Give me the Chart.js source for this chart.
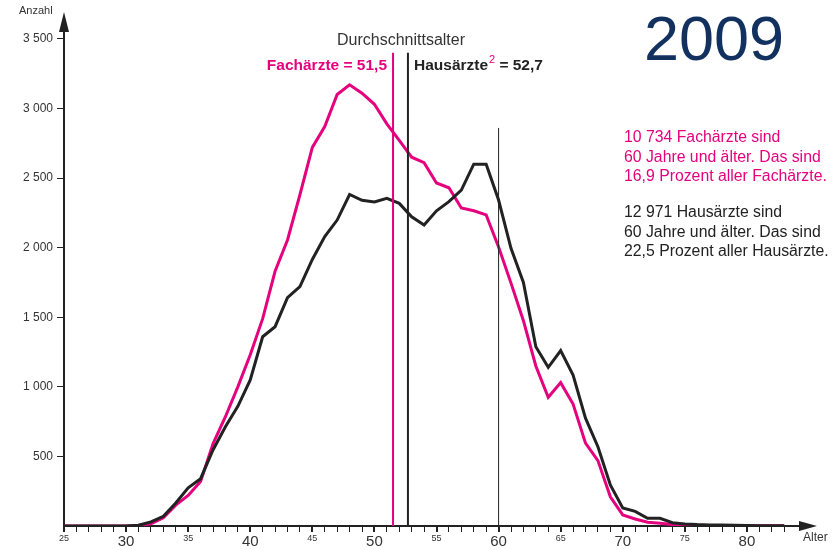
<!DOCTYPE html>
<html>
<head>
<meta charset="utf-8">
<script src="https://cdn.jsdelivr.net/npm/chart.js@4.4.1/dist/chart.umd.min.js"></script>
<style>
  html, body { margin: 0; padding: 0; background: #fff; }
  #wrap { width: 840px; height: 550px; position: relative; }
</style>
</head>
<body>
<div id="wrap"><canvas id="chart"></canvas></div>
<script>
// Alter 25 .. 83
const ages = [];
for (let a = 25; a <= 83; a++) ages.push(a);

const fachaerzte = [0, 0, 0, 0, 0, 0,
  5, 15, 60, 150, 220, 320, 590, 785, 1000, 1230,
  1490, 1830, 2055, 2380, 2720, 2870, 3100, 3170, 3110, 3030,
  2890, 2770, 2650, 2610, 2465, 2430, 2285, 2265, 2235, 2005,
  1745, 1475, 1150, 925, 1030, 876, 595, 470, 210, 80,
  50, 27, 20, 10, 5, 4, 3, 3, 2, 2,
  1, 1, 1];

const hausaerzte = [0, 0, 0, 0, 0, 0,
  5, 30, 70, 165, 275, 340, 546, 713, 860, 1050,
  1360, 1432, 1640, 1720, 1915, 2080, 2198, 2382, 2340, 2328,
  2354, 2318, 2222, 2162, 2265, 2330, 2414, 2600, 2600, 2342,
  1995, 1750, 1288, 1140, 1260, 1085, 775, 570, 295, 130,
  105, 55, 55, 24, 14, 10, 8, 8, 5, 3,
  2, 1, 1];

// Durchschnittsalter und 60-Jahre-Marke
const avgFach = 51.5;
const avgHaus = 52.7;
const avgTop = 3400;
const mark60 = 60;
const mark60Top = 2860;

const yTicks = [500, 1000, 1500, 2000, 2500, 3000, 3500];
const xLabels = [25, 30, 35, 40, 45, 50, 55, 60, 65, 70, 75, 80];

const PINK = "#e5007d";
const DARK = "#222222";
const FONT = "'Liberation Sans', Arial, sans-serif";

function toPoints(xs, ys) {
  let pts = [];
  for (let i = 0; i < xs.length; i++) pts.push({ x: xs[i], y: ys[i] });
  return pts;
}

function fmt(v) {
  return v >= 1000 ? Math.floor(v / 1000) + " " + String(v % 1000).padStart(3, "0") : String(v);
}

const decorations = {
  id: "decorations",
  afterDraw(chart) {
    const ctx = chart.ctx;
    const area = chart.chartArea;
    const xs = chart.scales.x;
    const ys = chart.scales.y;
    const x0 = xs.getPixelForValue(25);
    const y0 = ys.getPixelForValue(0);

    ctx.save();
    ctx.fillStyle = DARK;
    // y arrow
    ctx.beginPath();
    ctx.moveTo(x0, area.top - 6);
    ctx.lineTo(x0 - 5, area.top + 14);
    ctx.lineTo(x0 + 5, area.top + 14);
    ctx.closePath();
    ctx.fill();
    // x arrow
    ctx.beginPath();
    ctx.moveTo(area.right + 8, y0);
    ctx.lineTo(area.right - 10, y0 - 5);
    ctx.lineTo(area.right - 10, y0 + 5);
    ctx.closePath();
    ctx.fill();

    ctx.fillStyle = "#333";
    ctx.font = "11px " + FONT;
    ctx.textAlign = "left";
    ctx.textBaseline = "middle";
    ctx.fillText("Anzahl", 19, 11);
    ctx.font = "12px " + FONT;
    ctx.fillText("Alter", 803, 538);

    // Jahr
    ctx.fillStyle = "#12315f";
    ctx.font = "63px " + FONT;
    ctx.textBaseline = "alphabetic";
    ctx.fillText("2009", 644, 60);

    // Durchschnittsalter
    ctx.fillStyle = "#333";
    ctx.font = "16px " + FONT;
    ctx.textAlign = "center";
    ctx.textBaseline = "middle";
    ctx.fillText("Durchschnittsalter", 401, 41);

    ctx.font = "bold 15.5px " + FONT;
    ctx.textAlign = "right";
    ctx.fillStyle = PINK;
    ctx.fillText("Fachärzte = 51,5", 387, 66);

    ctx.textAlign = "left";
    ctx.fillStyle = DARK;
    let hx = 414;
    ctx.fillText("Hausärzte", hx, 66);
    hx += ctx.measureText("Hausärzte").width;
    ctx.fillStyle = PINK;
    ctx.font = "11px " + FONT;
    ctx.fillText("2", hx + 1, 60);
    hx += 7;
    ctx.fillStyle = DARK;
    ctx.font = "bold 15.5px " + FONT;
    ctx.fillText(" = 52,7", hx, 66);

    // Hinweise rechts
    ctx.font = "15.8px " + FONT;
    const pinkNote = ["10 734 Fachärzte sind", "60 Jahre und älter. Das sind", "16,9 Prozent aller Fachärzte."];
    const darkNote = ["12 971 Hausärzte sind", "60 Jahre und älter. Das sind", "22,5 Prozent aller Hausärzte."];
    ctx.fillStyle = PINK;
    pinkNote.forEach((t, i) => ctx.fillText(t, 624, 138 + i * 19.5));
    ctx.fillStyle = DARK;
    darkNote.forEach((t, i) => ctx.fillText(t, 624, 213 + i * 19.5));
    ctx.restore();
  }
};

new Chart(document.getElementById("chart").getContext("2d"), {
  type: "line",
  data: {
    datasets: [
      {
        label: "avgFach",
        data: [{ x: avgFach, y: 0 }, { x: avgFach, y: avgTop }],
        borderColor: PINK,
        borderWidth: 2,
        pointRadius: 0,
      },
      {
        label: "avgHaus",
        data: [{ x: avgHaus, y: 0 }, { x: avgHaus, y: avgTop }],
        borderColor: DARK,
        borderWidth: 2,
        pointRadius: 0,
      },
      {
        label: "mark60",
        data: [{ x: mark60, y: 0 }, { x: mark60, y: mark60Top }],
        borderColor: DARK,
        borderWidth: 1,
        pointRadius: 0,
      },
      {
        label: "Hausärzte",
        data: toPoints(ages, hausaerzte),
        borderColor: DARK,
        borderWidth: 3,
        pointRadius: 0,
        tension: 0,
      },
      {
        label: "Fachärzte",
        data: toPoints(ages, fachaerzte),
        borderColor: PINK,
        borderWidth: 3,
        pointRadius: 0,
        tension: 0,
      },
    ],
  },
  options: {
    responsive: true,
    maintainAspectRatio: false,
    animation: false,
    layout: { padding: { top: 18, right: 31, left: 0, bottom: 0 } },
    plugins: {
      legend: { display: false },
      tooltip: { enabled: false },
    },
    scales: {
      x: {
        type: "linear",
        min: 25,
        max: 85,
        afterFit: (s) => { s.height = 24; },
        border: { display: true, color: DARK, width: 2 },
        grid: {
          drawOnChartArea: false,
          drawTicks: true,
          tickLength: 6,
          color: (c) => (c.tick && c.tick.value <= 83 ? DARK : "transparent"),
          lineWidth: (c) => (c.tick && c.tick.value % 5 === 0 ? 2 : 1),
        },
        ticks: {
          stepSize: 1,
          autoSkip: false,
          maxRotation: 0,
          padding: 1,
          color: "#333",
          font: (c) => ({
            family: FONT,
            size: c.tick && c.tick.value % 10 === 0 ? 15 : 9,
          }),
          callback: (v) => (xLabels.includes(v) ? String(v) : ""),
        },
      },
      y: {
        type: "linear",
        min: 0,
        max: 3650,
        afterFit: (s) => { s.width = 64; },
        afterBuildTicks: (s) => {
          s.ticks = [0].concat(yTicks, [3650]).map((v) => ({ value: v }));
        },
        border: { display: true, color: DARK, width: 2 },
        grid: {
          drawOnChartArea: false,
          drawTicks: true,
          tickLength: 7,
          color: (c) => (c.tick && yTicks.includes(c.tick.value) ? DARK : "transparent"),
        },
        ticks: {
          padding: 4,
          color: "#333",
          font: { family: FONT, size: 12 },
          callback: (v) => (yTicks.includes(v) ? fmt(v) : ""),
        },
      },
    },
  },
  plugins: [decorations],
});
</script>
</body>
</html>
